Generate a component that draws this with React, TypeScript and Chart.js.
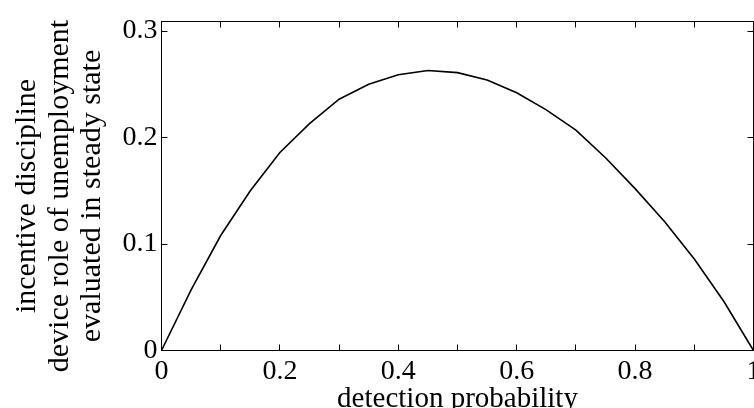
import React, { useEffect, useRef } from "react";
import { Chart, registerables } from "chart.js";

Chart.register(...registerables);

const xValues = [0, 0.05, 0.1, 0.15, 0.2, 0.25, 0.3, 0.35, 0.4, 0.45, 0.5, 0.55, 0.6, 0.65, 0.7, 0.75, 0.8, 0.85, 0.9, 0.95, 1];
const yValues = [0, 0.057, 0.108, 0.150, 0.186, 0.213, 0.236, 0.250, 0.259, 0.263, 0.261, 0.254, 0.242, 0.226, 0.207, 0.181, 0.152, 0.121, 0.086, 0.046, 0];
const xTitle = "detection probability";
const yTitleLines = ["incentive discipline", "device role of unemployment", "evaluated in steady state"];
const xRange = [0, 1];
const yRange = [0, 0.309];

const FONT = '"Liberation Serif", "Times New Roman", serif';
const FS = 28;

const framePlugin = {
  id: "matlabFrame",
  afterDraw(chart: any) {
    const { ctx, chartArea, scales } = chart;
    const { left, right, top, bottom } = chartArea;
    const xs = scales.x;
    const ys = scales.y;
    ctx.save();
    ctx.strokeStyle = "#000";
    ctx.lineWidth = 1;
    ctx.strokeRect(left, top, right - left, bottom - top);
    const tl = 6;
    ctx.beginPath();
    xs.ticks.forEach((t: any) => {
      const px = Math.floor(xs.getPixelForValue(t.value)) + 0.5;
      ctx.moveTo(px, bottom);
      ctx.lineTo(px, bottom - tl);
      ctx.moveTo(px, top);
      ctx.lineTo(px, top + tl);
    });
    ys.ticks.forEach((t: any) => {
      const py = Math.floor(ys.getPixelForValue(t.value)) + 0.5;
      ctx.moveTo(left, py);
      ctx.lineTo(left + tl, py);
      ctx.moveTo(right, py);
      ctx.lineTo(right - tl, py);
    });
    ctx.stroke();

    ctx.fillStyle = "#000";
    ctx.textAlign = "center";
    ctx.textBaseline = "alphabetic";
    ctx.font = `29px ${FONT}`;
    ctx.fillText(xTitle, (left + right) / 2, 407);

    ctx.font = `30px ${FONT}`;
    const baselines = [35, 67.5, 100];
    yTitleLines.forEach((line, i) => {
      ctx.save();
      ctx.translate(baselines[i], 196);
      ctx.rotate(-Math.PI / 2);
      ctx.fillText(line, 0, 0);
      ctx.restore();
    });
    ctx.restore();
  },
};

export default function App() {
  const ref = useRef<HTMLCanvasElement | null>(null);
  useEffect(() => {
    if (!ref.current) return;
    const chart = new Chart(ref.current, {
      type: "line",
      data: {
        datasets: [
          {
            data: xValues.map((x, i) => ({ x, y: yValues[i] })),
            borderColor: "#000",
            borderWidth: 1.6,
            pointRadius: 0,
            tension: 0,
            fill: false,
          },
        ],
      },
      options: {
        animation: false,
        responsive: false,
        maintainAspectRatio: false,
        layout: { padding: { top: 21.5, right: 0.5, left: 0, bottom: 0 } },
        plugins: { legend: { display: false }, tooltip: { enabled: false } },
        scales: {
          x: {
            type: "linear",
            min: xRange[0],
            max: xRange[1],
            grid: { display: false, drawTicks: false },
            border: { display: false },
            ticks: {
              stepSize: 0.1,
              autoSkip: false,
              maxRotation: 0,
              minRotation: 0,
              padding: 4,
              color: "#000",
              font: { family: FONT, size: FS, lineHeight: 1.2 },
              callback: (v: any) => {
                const n = Math.round(Number(v) * 10);
                if (n % 2 !== 0) return "";
                if (n === 0) return "0";
                if (n === 10) return "1";
                return (n / 10).toFixed(1);
              },
            },
            afterFit: (s: any) => {
              s.height = 57.5;
              s.paddingLeft = 0;
              s.paddingRight = 0;
            },
          },
          y: {
            type: "linear",
            min: yRange[0],
            max: yRange[1],
            grid: { display: false, drawTicks: false },
            border: { display: false },
            ticks: {
              stepSize: 0.1,
              includeBounds: false,
              padding: 4,
              color: "#000",
              font: { family: FONT, size: FS, lineHeight: 1.2 },
              callback: (v: any) => {
                const n = Math.round(Number(v) * 10);
                return n === 0 ? "0" : (n / 10).toFixed(1);
              },
            },
            afterFit: (s: any) => {
              s.width = 161.5;
              s.paddingTop = 0;
              s.paddingBottom = 0;
            },
          },
        },
      },
      plugins: [framePlugin],
    });
    return () => chart.destroy();
  }, []);
  return (
    <div style={{ position: "fixed", left: 0, top: 0, width: 754, height: 408, background: "#fff" }}>
      <canvas ref={ref} width={754} height={408} style={{ width: 754, height: 408, display: "block" }} />
    </div>
  );
}
